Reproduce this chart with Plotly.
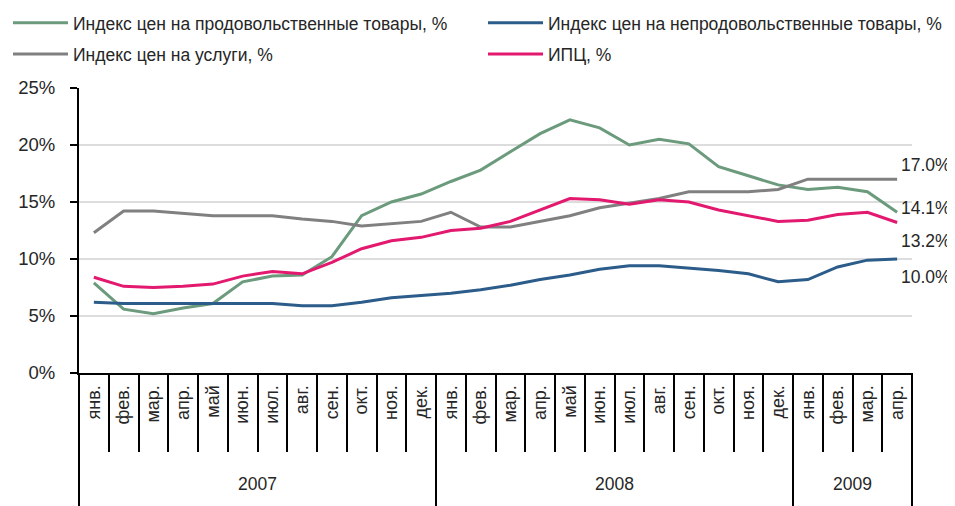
import plotly.graph_objects as go

years = ["2007"] * 12 + ["2008"] * 12 + ["2009"] * 4
months = ["янв.", "фев.", "мар.", "апр.", "май", "июн.", "июл.", "авг.", "сен.", "окт.", "ноя.", "дек.",
          "янв.", "фев.", "мар.", "апр.", "май", "июн.", "июл.", "авг.", "сен.", "окт.", "ноя.", "дек.",
          "янв.", "фев.", "мар.", "апр."]

food = [7.9, 5.6, 5.2, 5.7, 6.1, 8.0, 8.5, 8.6, 10.2, 13.8, 15.0, 15.7, 16.8, 17.8,
        19.4, 21.0, 22.2, 21.5, 20.0, 20.5, 20.1, 18.1, 17.3, 16.5, 16.1, 16.3, 15.9, 14.1]
nonfood = [6.2, 6.1, 6.1, 6.1, 6.1, 6.1, 6.1, 5.9, 5.9, 6.2, 6.6, 6.8, 7.0, 7.3,
           7.7, 8.2, 8.6, 9.1, 9.4, 9.4, 9.2, 9.0, 8.7, 8.0, 8.2, 9.3, 9.9, 10.0]
services = [12.3, 14.2, 14.2, 14.0, 13.8, 13.8, 13.8, 13.5, 13.3, 12.9, 13.1, 13.3, 14.1, 12.8,
            12.8, 13.3, 13.8, 14.5, 14.9, 15.3, 15.9, 15.9, 15.9, 16.1, 17.0, 17.0, 17.0, 17.0]
cpi = [8.4, 7.6, 7.5, 7.6, 7.8, 8.5, 8.9, 8.7, 9.7, 10.9, 11.6, 11.9, 12.5, 12.7,
       13.3, 14.3, 15.3, 15.2, 14.8, 15.2, 15.0, 14.3, 13.8, 13.3, 13.4, 13.9, 14.1, 13.2]

names = ["Индекс цен на продовольственные товары, %",
         "Индекс цен на непродовольственные товары, %",
         "Индекс цен на услуги, %",
         "ИПЦ, %"]
year_labels = ["2007", "2008", "2009"]

keys = [f"{y} {m}" for y, m in zip(years, months)]

FONT = "Liberation Sans, Arial, sans-serif"
FS = 17.5
TXT = "#262626"

# the page body adds an 8px offset, so the figure is sized to fill the rest of the window
W, H = 947, 498

colors = ["#6b9b7c", "#2b5c8a", "#808080", "#e2196f"]
series = [food, nonfood, services, cpi]
legend_ids = ["legend", "legend2", "legend3", "legend4"]
# legend positions (container coords): food / nonfood on first row, services / CPI on second
legend_pos = [(0.0, 0.9699), (0.5016, 0.9699), (0.0, 0.9076), (0.5016, 0.9076)]

fig = go.Figure()
for name, vals, col, lg in zip(names, series, colors, legend_ids):
    fig.add_trace(go.Scatter(x=keys, y=vals, name=name, mode="lines", showlegend=True,
                             line=dict(color=col, width=3), legend=lg))

# end-of-line value labels
label_shifts = [4, -18, 14, -18]
for vals, ys in zip(series, label_shifts):
    fig.add_annotation(x=keys[-1], y=vals[-1], text=f"{vals[-1]:.1f}%", showarrow=False,
                       xanchor="left", yanchor="middle", xshift=2, yshift=ys,
                       font=dict(family=FONT, size=17.5, color=TXT))

# year group labels and dividers
idx = 0
bounds = [0]
for yl in year_labels:
    n = years.count(yl)
    fig.add_annotation(x=idx + (n - 1) / 2, y=-0.39, yref="paper", text=yl, showarrow=False,
                       yanchor="middle", font=dict(family=FONT, size=FS, color=TXT))
    idx += n
    bounds.append(idx)

for b in bounds:
    if b == 0:
        fig.add_shape(type="line", xref="paper", yref="paper", x0=0, x1=0, y0=0, y1=-0.5,
                      line=dict(color="black", width=2))
    elif b == len(keys):
        fig.add_shape(type="line", xref="paper", yref="paper", x0=1, x1=1, y0=0, y1=-0.5,
                      line=dict(color="black", width=2))
    else:
        fig.add_shape(type="line", xref="x", yref="paper", x0=b - 0.5, x1=b - 0.5, y0=0, y1=-0.5,
                      line=dict(color="black", width=2))

legend_common = dict(orientation="h", xanchor="left", yanchor="middle",
                     xref="container", yref="container",
                     font=dict(family=FONT, size=FS, color=TXT),
                     bgcolor="rgba(0,0,0,0)", itemwidth=55, itemclick=False)
legend_layout = {lid: dict(x=px, y=py, **legend_common) for lid, (px, py) in zip(legend_ids, legend_pos)}

fig.update_layout(
    width=W, height=H, showlegend=True,
    margin=dict(l=71, r=43, t=80, b=133, autoexpand=False),
    paper_bgcolor="white", plot_bgcolor="white",
    font=dict(family=FONT, size=FS, color=TXT),
    xaxis=dict(type="category", tickmode="array", tickvals=keys, ticktext=months,
               tickangle=-90, tickson="boundaries", ticks="outside", ticklen=77,
               tickwidth=2, tickcolor="black", ticklabelstandoff=3, automargin=False,
               showline=True, linecolor="black", linewidth=2, showgrid=False,
               tickfont=dict(family=FONT, size=18, color=TXT), range=[-0.5, len(keys) - 0.5]),
    yaxis=dict(range=[0, 25], dtick=5, ticksuffix="%", ticks="outside", ticklen=7,
               tickwidth=2, tickcolor="black", showline=True, linecolor="black", linewidth=2,
               showgrid=True, gridcolor="#dddddd", gridwidth=1.5, zeroline=False,
               ticklabelstandoff=11, automargin=False,
               tickfont=dict(family=FONT, size=18.5, color=TXT)),
    **legend_layout,
)

fig.write_html("out.html")
